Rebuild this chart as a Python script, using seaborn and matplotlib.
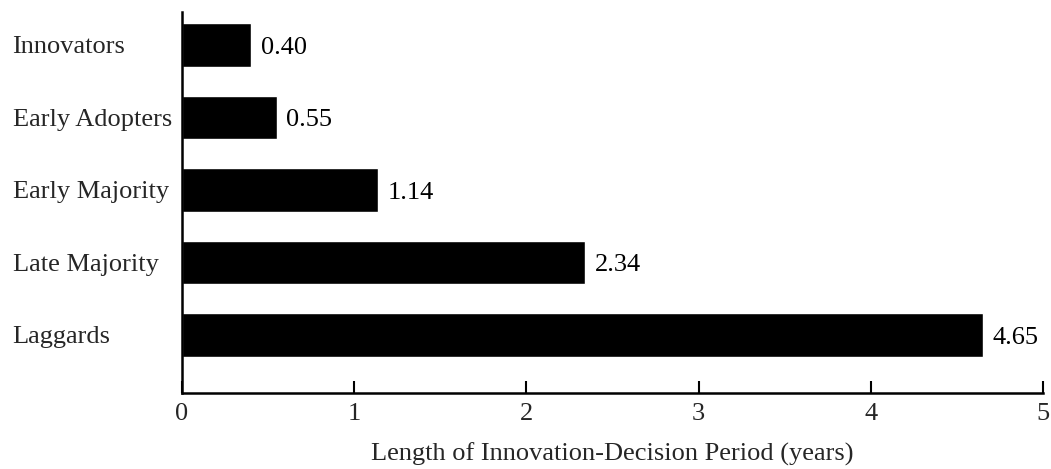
import matplotlib
matplotlib.use("Agg")
import matplotlib.pyplot as plt
import seaborn as sns
import pandas as pd

categories = ["Innovators", "Early Adopters", "Early Majority", "Late Majority", "Laggards"]
values = [0.40, 0.55, 1.14, 2.34, 4.65]
value_labels = ["0.40", "0.55", "1.14", "2.34", "4.65"]
x_ticks = [0, 1, 2, 3, 4, 5]
x_label = "Length of Innovation-Decision Period (years)"

sns.set_theme(style="white")
plt.rcParams["font.family"] = ["Liberation Serif", "DejaVu Serif"]
FS = 19

df = pd.DataFrame({"category": categories, "value": values})

fig = plt.figure(figsize=(10.51, 4.69), dpi=100)
ax = fig.add_axes([182 / 1051, 1 - 393 / 469, (1043 - 182) / 1051, (393 - 12) / 469])

sns.barplot(data=df, x="value", y="category", orient="h", color="black",
            width=0.6, saturation=1, ax=ax, order=categories)

for patch, lab in zip(ax.patches, value_labels):
    y = patch.get_y() + patch.get_height() / 2
    ax.annotate(lab, (patch.get_width(), y), xytext=(7, -2), textcoords="offset points",
                ha="left", va="center", fontsize=FS, color="black")

ax.set_xlim(0, 5)
ax.set_ylim(4.8, -0.455)
ax.set_xticks(x_ticks)
ax.set_xticklabels([str(t) for t in x_ticks], fontsize=FS)
ax.set_xlabel(x_label, fontsize=FS, labelpad=13)
ax.set_ylabel("")

ax.tick_params(axis="x", direction="in", length=9, width=1.5, color="black", pad=7, bottom=True)
ax.tick_params(axis="y", length=0, pad=122)
for lbl in ax.get_yticklabels():
    lbl.set_ha("left")
    lbl.set_fontsize(FS)

for s in ["top", "right"]:
    ax.spines[s].set_visible(False)
for s in ["left", "bottom"]:
    ax.spines[s].set_color("black")
    ax.spines[s].set_linewidth(1.8)

fig.savefig("out.png", dpi=100, facecolor="white")
